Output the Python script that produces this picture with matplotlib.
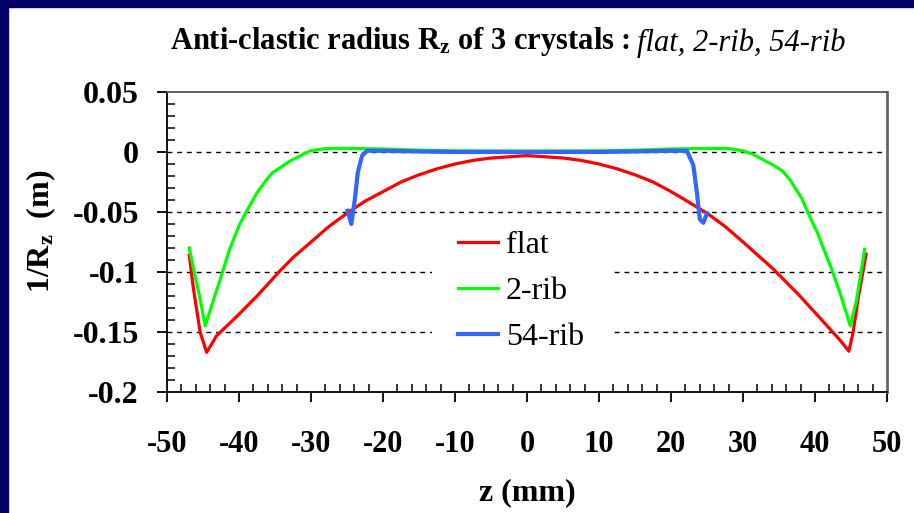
import matplotlib
matplotlib.use('Agg')
import matplotlib.pyplot as plt
from matplotlib.patches import Rectangle
from matplotlib.ticker import MultipleLocator

plt.rcParams['font.family'] = ['Liberation Serif', 'DejaVu Serif']
plt.rcParams['mathtext.fontset'] = 'custom'
plt.rcParams['mathtext.rm'] = 'Liberation Serif:bold'
plt.rcParams['mathtext.it'] = 'Liberation Serif:bold:italic'
plt.rcParams['mathtext.bf'] = 'Liberation Serif:bold'
plt.rcParams['axes.unicode_minus'] = False

# flat crystal
z_flat = [-46.9, -46.4, -45.4, -44.5, -43.1, -40.3, -37.5, -34.3, -32.5, -30, -27.5, -25,
          -22.5, -20, -17.5, -15, -12.5, -10, -7.5, -5, -2.5, 0, 2.5, 5, 7.5, 10, 12.5,
          15, 17.5, 20, 21.7, 25, 27.5, 30, 34.2, 37.9, 41.7, 43.5, 44.7, 45.3, 46.0, 47.1]
v_flat = [-0.086, -0.111, -0.150, -0.167, -0.153, -0.137, -0.120, -0.099, -0.088, -0.075,
          -0.062, -0.051, -0.041, -0.033, -0.025, -0.019, -0.014, -0.010, -0.007, -0.005,
          -0.004, -0.003, -0.004, -0.005, -0.007, -0.010, -0.014, -0.019, -0.025, -0.033,
          -0.039, -0.051, -0.062, -0.075, -0.0975, -0.120, -0.145, -0.157, -0.166, -0.150,
          -0.122, -0.085]

# 2-rib crystal
z_2rib = [-46.9, -46.4, -45.4, -44.7, -43.8, -42.6, -41.3, -39.9, -39.0, -37.5, -36.3, -35.3,
          -32.9, -30.1, -27.8, -25, -20, -15, -10, 0, 10, 15, 20, 25, 27.8, 30, 31.4,
          34.2, 35.5, 36.5, 38.2, 38.9, 40.3, 42.4, 43.75, 44.9, 45.8, 46.9]
v_2rib = [-0.080, -0.095, -0.1225, -0.145, -0.128, -0.106, -0.081, -0.060, -0.050, -0.034,
          -0.024, -0.017, -0.0075, 0.001, 0.003, 0.003, 0.0025, 0.0015, 0.001, 0.0008, 0.001,
          0.0015, 0.0025, 0.003, 0.003, 0.001, -0.002, -0.011, -0.016, -0.023, -0.039,
          -0.049, -0.067, -0.099, -0.1225, -0.145, -0.1225, -0.081]

# 54-rib crystal
z_54rib = [-24.9, -24.4, -23.9, -23.5, -22.9, -22.2, -20, -10, 0, 10, 20, 22.2, 23.1,
           23.6, 24.0, 24.5, 25.0]
v_54rib = [-0.049, -0.060, -0.039, -0.017, -0.003, 0.001, 0.001, 0.0, 0.0, 0.0, 0.001,
           0.001, -0.011, -0.034, -0.056, -0.059, -0.051]

xticks = [-50, -40, -30, -20, -10, 0, 10, 20, 30, 40, 50]
yticks = [0.05, 0, -0.05, -0.1, -0.15, -0.2]
ytick_labels = ['0.05', '0', '-0.05', '-0.1', '-0.15', '-0.2']

fig = plt.figure(figsize=(9.14, 5.13), dpi=100)
fig.patch.set_facecolor('white')

# navy frame on top and left
W, H = 914.0, 513.0
fig.patches.append(Rectangle((0, 1 - 7 / H), 1, 7 / H, transform=fig.transFigure,
                             color='#000066', zorder=0))
fig.patches.append(Rectangle((0, 0), 8 / W, 1, transform=fig.transFigure,
                             color='#000066', zorder=0))

ax = fig.add_axes([167 / W, 1 - 392 / H, 720 / W, 300 / H])

for y in yticks[1:-1]:
    ax.axhline(y, color='black', lw=1.0, ls=(0, (3.5, 3.5)), zorder=1)

ax.plot(z_flat, v_flat, color='#ff0000', lw=2.3, label='flat', zorder=3)
ax.plot(z_2rib, v_2rib, color='#00ff00', lw=2.3, label='2-rib', zorder=3)
ax.plot(z_54rib, v_54rib, color='#3366ff', lw=3.0, label='54-rib', zorder=4)

ax.set_xlim(-50, 50)
ax.set_ylim(-0.2, 0.05)
ax.set_xticks(xticks)
ax.set_yticks(yticks)
ax.set_yticklabels(ytick_labels)
ax.xaxis.set_minor_locator(MultipleLocator(2))
ax.yaxis.set_minor_locator(MultipleLocator(0.01))

ax.tick_params(which='major', direction='out', length=7.2, width=1.3, color='black')
ax.tick_params(which='minor', direction='in', length=5.5, width=1.1, color='black')
ax.tick_params(axis='x', which='major', pad=20)
ax.tick_params(axis='y', which='major', pad=13)
for lab in ax.get_xticklabels():
    lab.set_fontsize(22)
    lab.set_fontweight('bold')
for lab in ax.get_yticklabels():
    lab.set_fontsize(23)
    lab.set_fontweight('bold')

ax.spines['left'].set_color('black')
ax.spines['bottom'].set_color('black')
ax.spines['left'].set_linewidth(1.3)
ax.spines['bottom'].set_linewidth(1.3)
ax.spines['top'].set_color('#555555')
ax.spines['right'].set_color('#666666')
ax.spines['top'].set_linewidth(1.3)
ax.spines['right'].set_linewidth(2.0)

ax.set_xlabel('z (mm)', fontsize=23, fontweight='bold', labelpad=14)
ax.set_ylabel('1/R$_\\mathrm{z}$  (m)', fontsize=23, fontweight='bold')
ax.yaxis.set_label_coords(-0.152, 0.537)

# white block behind the legend hides the dashed lines there
ax.add_patch(Rectangle((0.368, 0.107), 0.251, 0.48, transform=ax.transAxes,
                       facecolor='white', edgecolor='none', zorder=2))
ax.legend(loc='upper left', bbox_to_anchor=(0.404, 0.537), frameon=False,
          prop={'family': 'Liberation Serif', 'size': 23}, handlelength=1.25,
          handletextpad=0.25, labelspacing=0.52, borderpad=0, borderaxespad=0)

# title: bold part then italic part
t1 = fig.text(170 / W, 1 - 42 / H, 'Anti-clastic radius R$_\\mathrm{z}$ of 3 crystals :',
              fontsize=22, fontweight='bold', ha='left', va='center')
renderer = fig.canvas.get_renderer()
bb = t1.get_window_extent(renderer)
fig.text(bb.x1 / W + 7 / W, 1 - 43 / H, 'flat, 2-rib, 54-rib', fontsize=22,
         style='italic', ha='left', va='center')

fig.savefig('out.png', dpi=100)
